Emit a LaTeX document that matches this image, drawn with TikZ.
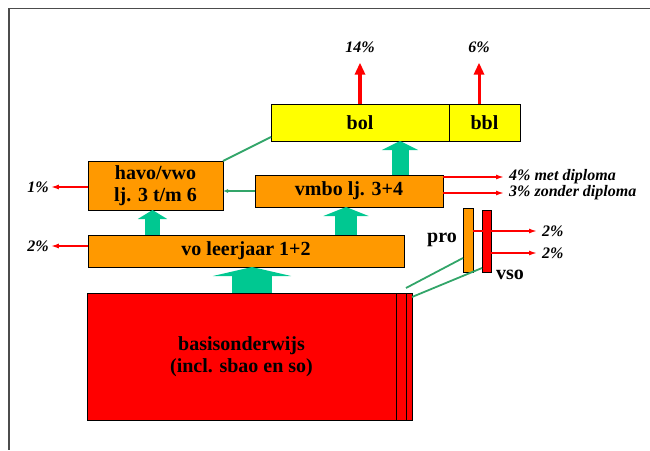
\documentclass[tikz,border=0pt]{standalone}
\usepackage{fontspec}
\setmainfont{Liberation Serif}
\usetikzlibrary{positioning,calc,arrows.meta}
\tikzset{>=latex}
\definecolor{oranje}{RGB}{255,153,0}
\definecolor{geel}{RGB}{255,255,0}
\definecolor{rood}{RGB}{255,0,0}
\definecolor{groenpijl}{RGB}{0,200,145}
\definecolor{groenlijn}{RGB}{50,165,105}

\begin{document}
\begin{tikzpicture}[x=1pt,y=-1pt,
                    blok/.style={draw,line width=0.8pt,anchor=north west,inner sep=0,outer sep=0,align=center,font=\fontsize{20}{22}\selectfont\bfseries},
                    schoolsoort/.style={blok,fill=oranje},
                    beroeps/.style={blok,fill=geel},
                    basis/.style={blok,fill=rood},
                    percentage/.style={inner sep=2pt,font=\fontsize{16}{18}\selectfont\bfseries\itshape},
                    naam/.style={inner sep=0,font=\fontsize{20}{22}\selectfont\bfseries},
                    doorstroom/.style 2 args={groenpijl,line width=#1,-{Triangle[length=9pt,width=#2]}},
                    uitstroom/.style={rood,line width=4pt,-{Triangle[length=12pt,width=10pt]},shorten >=8pt},
                    vertrek/.style={rood,line width=1.5pt,-{Latex[length=8pt,width=5pt]}},
                    overgang/.style={groenlijn,line width=1.8pt},
       ]
       \useasboundingbox (0,0) rectangle (650,450);
       \draw[gray!60!black,line width=1.5pt] (650,8.5) -- (9,8.5) -- (9,450);

       % schoolsoorten
       \node[beroeps,minimum width=178pt,minimum height=37pt] (bol) at (271,104) {bol};
       \node[beroeps,minimum width=71pt,minimum height=37pt,right=0pt of bol] (bbl) {bbl};
       \node[schoolsoort,minimum width=135pt,minimum height=49pt] (havo) at (88,161) {havo/vwo\\lj. 3 t/m 6};
       \node[schoolsoort,minimum width=188pt,minimum height=32pt] (vmbo) at (255,175) {vmbo lj. 3+4};
       \node[schoolsoort,minimum width=316pt,minimum height=32pt] (vo) at (88,235) {vo leerjaar 1+2};
       \node[basis,minimum width=309pt,minimum height=127pt] (basis) at (87,293) {basisonderwijs\\(incl. sbao en so)};
       \node[basis,minimum width=10pt,minimum height=127pt,right=0pt of basis] (strippro) {};
       \node[basis,minimum width=6pt,minimum height=127pt,right=0pt of strippro] (stripvso) {};
       \node[schoolsoort,minimum width=10pt,minimum height=64pt] (pro) at (463,208) {};
       \node[basis,minimum width=9pt,minimum height=62pt] (vso) at (482,210) {};
       \node[naam,left=6pt of pro] (prolabel) {pro};
       \node[naam] (vsolabel) at (510,275) {vso};

       % percentages
       \node[percentage] (p14) at (360,47) {14\%};
       \node[percentage] (p6) at (479,47) {6\%};
       \node[percentage] (p1) at (38,187) {1\%};
       \node[percentage] (p2) at (38,246) {2\%};
       \node[percentage,anchor=west] (met) at (507,177) {4\% met diploma};
       \node[percentage,anchor=west] (zonder) at (507,193) {3\% zonder diploma};
       \node[percentage,anchor=west] (ppro) at (540,231) {2\%};
       \node[percentage,anchor=west] (pvso) at (540,253) {2\%};

       % doorstroom
       \draw[doorstroom={15pt}{29pt}] ($(vo.north -| havo)+(-3,0)$) -- ($(havo.south)+(-3,0)$);
       \draw[doorstroom={22pt}{45pt}] ($(vo.north -| vmbo)+(-3,0)$) -- ($(vmbo.south)+(-3,0)$);
       \draw[doorstroom={17pt}{36pt}] ($(bol.south |- vmbo.north)+(40,0)$) -- ($(bol.south)+(40,0)$);
       \draw[doorstroom={40pt}{78pt}] ($(vo.south |- basis.north)+(6,0)$) -- ($(vo.south)+(6,0)$);

       \draw[overgang] ([yshift=4pt]bol.south west) -- (havo.north east);
       \draw[overgang,-{Latex[length=5pt,width=4pt]}] (vmbo.west) -- (havo.east |- vmbo.west);
       \draw[overgang] ([yshift=14pt]pro.south west) -- ([yshift=5pt]strippro.north east);
       \draw[overgang] ([yshift=4pt]vso.south west) -- ([yshift=-4pt]stripvso.north east);

       % uitstroom
       \draw[uitstroom] (bol.north -| p14) -- (p14.south);
       \draw[uitstroom,line width=3pt] (bbl.north -| p6) -- (p6.south);
       \draw[vertrek] (havo.west |- p1) -- (p1.east);
       \draw[vertrek] (vo.west |- p2) -- (p2.east);
       \draw[vertrek,shorten >=3pt] (vmbo.east |- met) -- (met.west);
       \draw[vertrek,shorten >=3pt] (vmbo.east |- zonder) -- (zonder.west);
       \draw[vertrek,shorten >=3pt] (pro.east |- ppro) -- (ppro.west);
       \draw[vertrek,shorten >=3pt] (vso.east |- pvso) -- (pvso.west);
\end{tikzpicture}
\end{document}
